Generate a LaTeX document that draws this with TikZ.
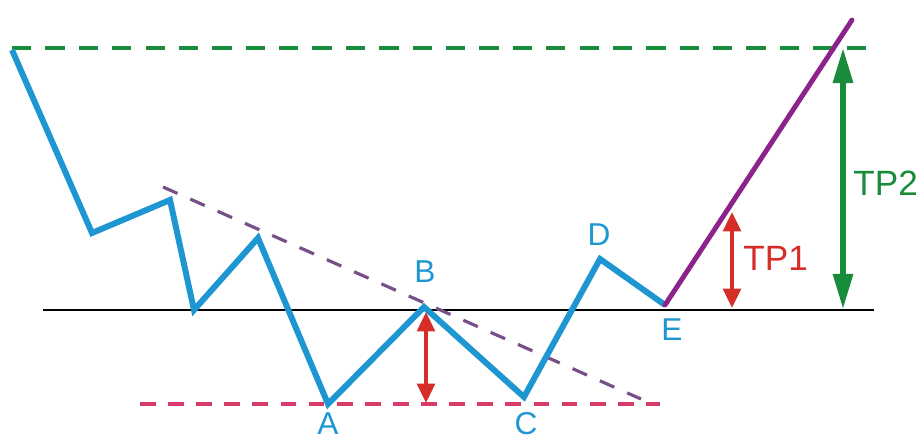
\documentclass[tikz,border=0pt]{standalone}
\usepackage{fontspec}
\setmainfont{Liberation Sans}
\usepackage{tikz}
\usetikzlibrary{arrows.meta,positioning}

\definecolor{waveblue}{RGB}{30,150,210}
\definecolor{breakpurple}{RGB}{140,35,140}
\definecolor{trendpurple}{RGB}{120,80,135}
\definecolor{targetgreen}{RGB}{25,140,60}
\definecolor{targetred}{RGB}{215,45,40}
\definecolor{supportpink}{RGB}{215,60,105}

\begin{document}
\begin{tikzpicture}[
    x=0.02cm, y=-0.02cm,
    font=\fontsize{18}{21}\selectfont,
    price/.style={draw=waveblue, line width=3.4pt, line join=miter},
    breakout/.style={draw=breakpurple, line width=2.8pt},
    neckline/.style={draw=black, line width=1.4pt},
    trendline/.style={draw=trendpurple, line width=1.8pt, dash pattern=on 9pt off 8pt},
    lowline/.style={draw=supportpink, line width=1.8pt, dash pattern=on 9pt off 7pt},
    topline/.style={draw=targetgreen, line width=1.9pt, dash pattern=on 11pt off 8pt},
    redarrow/.style={draw=targetred, line width=2.2pt, {Triangle[width=10pt,length=11pt]}-{Triangle[width=10pt,length=11pt]}},
    greenarrow/.style={draw=targetgreen, line width=3pt, {Triangle[width=11pt,length=20pt]}-{Triangle[width=11pt,length=20pt]}},
    pointlabel/.style={text=waveblue, inner sep=0pt},
    targetlabel/.style={anchor=west, inner sep=0pt, font=\fontsize{20}{23}\selectfont}
]
\useasboundingbox (0,0) rectangle (916,439);

% price swings
\coordinate (start) at (12,50);
\coordinate (s1) at (92,233);
\coordinate (s2) at (170,200);
\coordinate (s3) at (194,310);
\coordinate (s4) at (258,238);
\coordinate (ptA) at (328,404);
\coordinate (ptB) at (424,307);
\coordinate (ptC) at (524,397);
\coordinate (ptD) at (600,259);
\coordinate (ptE) at (665,305);
\coordinate (top) at (852,20);

% guide lines
\coordinate (neckL) at (43,310);
\coordinate (neckR) at (874,310);
\coordinate (trendL) at (163,187);
\coordinate (trendR) at (641,399);
\coordinate (lowL) at (140,404);
\coordinate (lowR) at (660,404);
\coordinate (topL) at (12,48);
\coordinate (topR) at (866,48);

\draw[topline] (topL) -- (topR);
\draw[lowline] (lowL) -- (lowR);
\draw[neckline] (neckL) -- (neckR);
\draw[trendline] (trendL) -- (trendR);

\draw[price] (start) -- (s1) -- (s2) -- (s3) -- (s4) -- (ptA) -- (ptB) -- (ptC) -- (ptD) -- (ptE);
\draw[breakout, line cap=round] (ptE) -- (top);

% targets
\coordinate (hB1) at (426,312);
\coordinate (hB2) at (426,403);
\draw[redarrow] (hB1) -- (hB2);
\coordinate (tp1a) at (732,212);
\coordinate (tp1b) at (732,308);
\draw[redarrow] (tp1a) -- (tp1b);
\coordinate (tp2a) at (843,48);
\coordinate (tp2b) at (843,309);
\draw[greenarrow] (tp2a) -- (tp2b);

\node[targetlabel, text=targetred] (tp1) at (743,258) {TP1};
\node[targetlabel, text=targetgreen] (tp2) at (853,183) {TP2};

\node[pointlabel] (labA) at (328,424) {A};
\node[pointlabel] (labB) at (425,272) {B};
\node[pointlabel] (labC) at (526,424) {C};
\node[pointlabel] (labD) at (599,235) {D};
\node[pointlabel] (labE) at (672,330) {E};
\end{tikzpicture}
\end{document}
